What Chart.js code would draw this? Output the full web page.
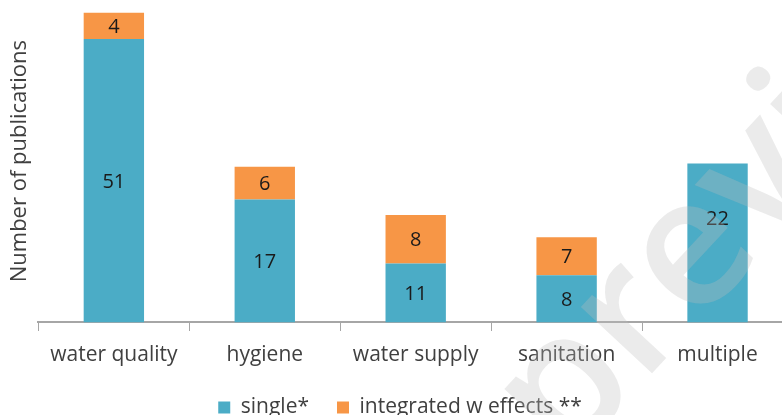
<!DOCTYPE html>
<html>
<head>
<meta charset="utf-8">
<script src="https://cdn.jsdelivr.net/npm/chart.js@4/dist/chart.umd.min.js"></script>
<style>
  html, body { margin: 0; padding: 0; background: #fff; overflow: hidden; }
  #wrap { position: relative; width: 800px; height: 428px; }
</style>
</head>
<body>
<div id="wrap"><canvas id="c"></canvas></div>
<script>
// Categories
const categories = ["water quality", "hygiene", "water supply", "sanitation", "multiple"];
// Bar heights as drawn in the picture (units of publications)
const singleValues = [51, 22.1, 10.6, 8.5, 28.6];
const integratedValues = [4.7, 5.9, 8.7, 6.8, null];
// Numbers printed inside the bars
const singleLabels = ["51", "17", "11", "8", "22"];
const integratedLabels = ["4", "6", "8", "7", ""];
const seriesNames = ["single*", "integrated w effects **"];
const yTitle = "Number of publications";
const watermarkText = "preview";

const FONT = "'Open Sans', sans-serif";

const barLabelPlugin = {
  id: 'barLabels',
  afterDatasetsDraw(chart, args, opts) {
    const ctx = chart.ctx;
    ctx.save();
    ctx.font = "20px " + FONT;
    ctx.fillStyle = "#1a1a1a";
    ctx.textAlign = "center";
    ctx.textBaseline = "alphabetic";
    chart.data.datasets.forEach((ds, di) => {
      const meta = chart.getDatasetMeta(di);
      meta.data.forEach((el, i) => {
        const txt = ds.valueLabels[i];
        if (!txt) return;
        const shift = (opts.shifts && opts.shifts[di] && opts.shifts[di][i]) || 0;
        ctx.fillText(txt, el.x, (el.y + el.base) / 2 + 7 + shift);
      });
    });
    ctx.restore();
  }
};

const watermarkPlugin = {
  id: 'watermark',
  afterDraw(chart) {
    const ctx = chart.ctx;
    ctx.save();
    ctx.font = "600 180px " + FONT;
    const pw = ctx.measureText(watermarkText.charAt(0)).width;
    ctx.translate(642, 384);
    ctx.rotate(-47 * Math.PI / 180);
    ctx.fillStyle = "rgba(190,190,190,0.3)";
    ctx.textBaseline = "alphabetic";
    ctx.fillText(watermarkText, -pw, 0);
    ctx.restore();
  }
};

new Chart(document.getElementById('c'), {
  type: 'bar',
  data: {
    labels: categories,
    datasets: [
      { label: seriesNames[0], data: singleValues, valueLabels: singleLabels,
        backgroundColor: '#4BACC6', categoryPercentage: 1, barPercentage: 0.4 },
      { label: seriesNames[1], data: integratedValues, valueLabels: integratedLabels,
        backgroundColor: '#F79646', categoryPercentage: 1, barPercentage: 0.4 }
    ]
  },
  options: {
    responsive: true,
    maintainAspectRatio: false,
    animation: false,
    layout: { padding: { left: 7, right: 7, top: 0, bottom: 0 } },
    scales: {
      x: {
        stacked: true,
        grid: { offset: true, drawOnChartArea: false, drawTicks: true, tickLength: 18,
                tickBorderDash: [8, 1000], color: '#a6a6a6', lineWidth: 1 },
        border: { display: true, color: '#a6a6a6', width: 2 },
        ticks: { color: '#404040', font: { family: FONT, size: 21, lineHeight: 0.6 }, padding: 8, maxRotation: 0, autoSkip: false }
      },
      y: {
        stacked: true,
        min: 0,
        max: 58,
        grid: { display: false, drawTicks: false, tickLength: 0 },
        border: { display: false },
        ticks: { display: false, padding: 0 },
        title: { display: true, text: yTitle, color: '#404040', font: { family: FONT, size: 22 }, padding: { top: 0, bottom: 5 } }
      }
    },
    plugins: {
      legend: {
        position: 'bottom',
        labels: { boxWidth: 12, boxHeight: 12, padding: 28, color: '#404040', font: { family: FONT, size: 21 } }
      },
      tooltip: { enabled: false },
      barLabels: { shifts: [[0, 0, 0, 0, -25], [0, 0, 0, 0, 0]] }
    }
  },
  plugins: [barLabelPlugin, watermarkPlugin]
});
</script>
</body>
</html>
